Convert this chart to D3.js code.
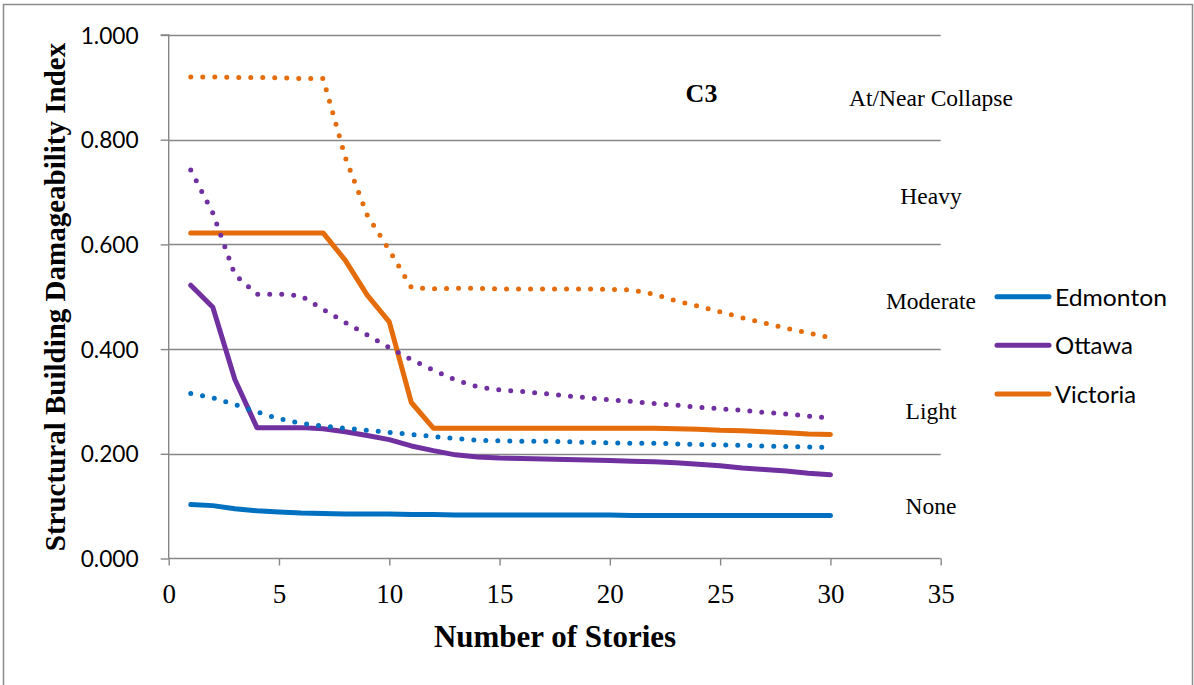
<!DOCTYPE html>
<html>
<head>
<meta charset="utf-8">
<script src="https://cdn.jsdelivr.net/npm/d3@7"></script>
<style>
  html, body { margin: 0; padding: 0; background: #fff; }
  svg { display: block; }
</style>
</head>
<body>
<svg id="chart" width="1194" height="685"></svg>
<script>
// ---- Data ----
const stories = d3.range(1, 31);
const xTicks = [0, 5, 10, 15, 20, 25, 30, 35];
const yTicks = [0, 0.2, 0.4, 0.6, 0.8, 1.0];

const edmontonSolid = [0.103,0.101,0.095,0.091,0.089,0.087,0.086,0.085,0.085,0.085,0.084,0.084,0.083,0.083,0.083,0.083,0.083,0.083,0.083,0.083,0.082,0.082,0.082,0.082,0.082,0.082,0.082,0.082,0.082,0.082];
const edmontonDotted = [0.315,0.307,0.294,0.280,0.267,0.258,0.253,0.249,0.245,0.241,0.237,0.233,0.229,0.226,0.225,0.224,0.224,0.223,0.222,0.221,0.220,0.220,0.219,0.218,0.217,0.216,0.215,0.214,0.213,0.212];
const ottawaSolid = [0.522,0.480,0.342,0.250,0.250,0.250,0.248,0.242,0.235,0.227,0.215,0.206,0.198,0.194,0.192,0.191,0.190,0.189,0.188,0.187,0.186,0.185,0.183,0.180,0.177,0.173,0.170,0.167,0.163,0.160];
const ottawaDotted = [0.742,0.660,0.542,0.505,0.505,0.502,0.476,0.451,0.427,0.403,0.380,0.360,0.341,0.328,0.322,0.319,0.315,0.311,0.307,0.303,0.300,0.296,0.293,0.289,0.286,0.283,0.279,0.276,0.272,0.268];
const victoriaSolid = [0.622,0.622,0.622,0.622,0.622,0.622,0.622,0.570,0.503,0.452,0.298,0.249,0.249,0.249,0.249,0.249,0.249,0.249,0.249,0.249,0.249,0.249,0.248,0.247,0.245,0.244,0.242,0.240,0.238,0.237];
const victoriaDotted = [0.920,0.920,0.919,0.919,0.918,0.917,0.917,0.767,0.656,0.589,0.518,0.515,0.516,0.516,0.515,0.515,0.515,0.515,0.515,0.514,0.513,0.505,0.492,0.482,0.471,0.460,0.450,0.440,0.431,0.422];

const cities = ["Edmonton", "Ottawa", "Victoria"];
const cityColors = ["#0070C0", "#7030A0", "#E46C0A"];

const damageLabels = ["At/Near Collapse", "Heavy", "Moderate", "Light", "None"];
const damageLabelValues = [0.88, 0.693, 0.492, 0.281, 0.100];

const chartTag = "C3";
const xTitle = "Number of Stories";
const yTitle = "Structural Building Damageability Index";

// ---- Layout ----
const svg = d3.select("#chart");
const x = d3.scaleLinear().domain([0, 35]).range([168.7, 940.7]);
const y = d3.scaleLinear().domain([0, 1]).range([558.5, 35]);
const gridColor = "#878787";

// outer border
svg.append("rect").attr("x", 3.5).attr("y", 4.5).attr("width", 1189).attr("height", 700)
  .attr("fill", "none").attr("stroke", "#8c8c8c").attr("stroke-width", 1.5);

// gridlines
svg.append("g").selectAll("line").data(yTicks.filter(d => d > 0)).join("line")
  .attr("x1", x(0)).attr("x2", x(35))
  .attr("y1", d => Math.round(y(d)) + 0.5).attr("y2", d => Math.round(y(d)) + 0.5)
  .attr("stroke", gridColor).attr("stroke-width", 1.4);

// Y axis
const yAxis = d3.axisLeft(y).tickValues(yTicks).tickSize(8).tickFormat(d3.format(".3f")).tickPadding(0);
const gy = svg.append("g").attr("transform", `translate(${x(0)},0)`).call(yAxis);
gy.select(".domain").attr("stroke", gridColor).attr("stroke-width", 1.4).attr("d", `M-8,${y(1)}H0V${y(0)}`);
gy.selectAll(".tick line").attr("stroke", gridColor).attr("stroke-width", 1.4);
gy.selectAll(".tick text")
  .attr("x", -30).attr("dy", "0.35em")
  .attr("font-family", "Lato, 'Open Sans', sans-serif").attr("font-size", 23).attr("fill", "#000")
  .attr("textLength", 58).attr("lengthAdjust", "spacingAndGlyphs");

// X axis
const xAxis = d3.axisBottom(x).tickValues(xTicks).tickSize(7).tickFormat(d3.format("d")).tickPadding(0);
const gx = svg.append("g").attr("transform", `translate(0,${y(0)})`).call(xAxis);
gx.select(".domain").attr("stroke", gridColor).attr("stroke-width", 1.4).attr("d", `M${x(0)},0H${x(35)}`);
gx.selectAll(".tick line").attr("stroke", gridColor).attr("stroke-width", 1.4);
gx.selectAll(".tick text")
  .attr("y", 44).attr("dy", 0)
  .attr("font-family", "'Liberation Serif', 'Times New Roman', serif").attr("font-size", 27).attr("fill", "#000");

// lines
const line = d3.line().x((d, i) => x(stories[i])).y(d => y(d));
const solidSeries = [edmontonSolid, ottawaSolid, victoriaSolid];
const dottedSeries = [edmontonDotted, ottawaDotted, victoriaDotted];

svg.append("g").selectAll("path").data(solidSeries).join("path")
  .attr("d", d => line(d))
  .attr("fill", "none")
  .attr("stroke", (d, i) => cityColors[i])
  .attr("stroke-width", 5)
  .attr("stroke-linecap", "round")
  .attr("stroke-linejoin", "round");

svg.append("g").selectAll("path").data(dottedSeries).join("path")
  .attr("d", d => line(d))
  .attr("fill", "none")
  .attr("stroke", (d, i) => cityColors[i])
  .attr("stroke-width", 5)
  .attr("stroke-linecap", "round")
  .attr("stroke-dasharray", "0,12");

// damage state labels
svg.append("g").selectAll("text").data(damageLabels).join("text")
  .attr("x", 931)
  .attr("y", (d, i) => y(damageLabelValues[i]) + 8)
  .attr("text-anchor", "middle")
  .attr("font-family", "'Liberation Serif', 'Times New Roman', serif")
  .attr("font-size", 23.5)
  .attr("fill", "#000")
  .text(d => d);

// C3 tag
svg.append("text").attr("x", 701.5).attr("y", 101.5).attr("text-anchor", "middle")
  .attr("font-family", "'Liberation Serif', 'Times New Roman', serif")
  .attr("font-size", 26).attr("font-weight", "bold").text(chartTag);

// axis titles
svg.append("text").attr("x", 555).attr("y", 647).attr("text-anchor", "middle")
  .attr("font-family", "'Liberation Serif', 'Times New Roman', serif")
  .attr("font-size", 31).attr("font-weight", "bold").text(xTitle);

svg.append("text").attr("transform", "translate(65,297) rotate(-90)").attr("text-anchor", "middle")
  .attr("font-family", "'Liberation Serif', 'Times New Roman', serif")
  .attr("font-size", 29).attr("font-weight", "bold").text(yTitle);

// legend
const legendY = [296.7, 345.3, 394];
const legendWidths = [112, 78, 81];
const lg = svg.append("g");
lg.selectAll("line").data(cities).join("line")
  .attr("x1", 997).attr("x2", 1049)
  .attr("y1", (d, i) => legendY[i]).attr("y2", (d, i) => legendY[i])
  .attr("stroke", (d, i) => cityColors[i]).attr("stroke-width", 5).attr("stroke-linecap", "round");
lg.selectAll("text").data(cities).join("text")
  .attr("x", 1055).attr("y", (d, i) => legendY[i] + 9)
  .attr("font-family", "Lato, 'Open Sans', sans-serif").attr("font-size", 23.5).attr("fill", "#000")
  .attr("textLength", (d, i) => legendWidths[i]).attr("lengthAdjust", "spacingAndGlyphs")
  .text(d => d);
</script>
</body>
</html>
